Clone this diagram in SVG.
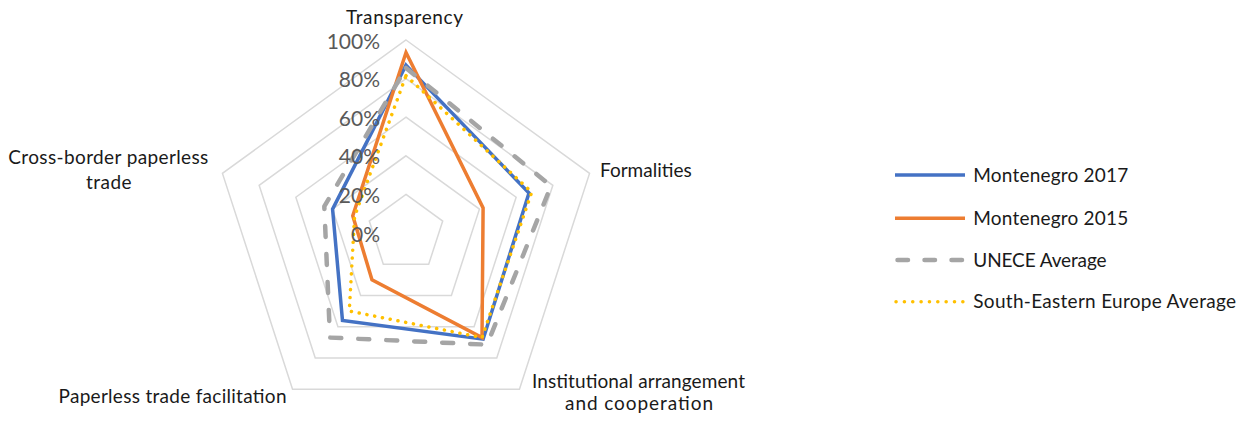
<svg xmlns="http://www.w3.org/2000/svg" width="1246" height="421" viewBox="0 0 1246 421">
<style>
.grid{fill:none;stroke:#d9d9d9;stroke-width:1.5}
.s{fill:none;stroke-linejoin:miter}
.blue{stroke:#4472c4;stroke-width:3.5}
.orange{stroke:#ed7d31;stroke-width:3.5}
.gray{stroke:#a5a5a5;stroke-width:4.5;stroke-dasharray:11 17;stroke-linecap:round;stroke-linejoin:round}
.yellow{stroke:#ffc000;stroke-width:3.5;stroke-dasharray:0.1 7.8;stroke-linecap:round;stroke-linejoin:round}
.pct{font-family:Lato,"Liberation Sans",sans-serif;font-size:21px;fill:#595959;text-anchor:end;dominant-baseline:central}
.lbl{font-family:Lato,"Liberation Sans",sans-serif;font-size:19px;fill:#1a1a1a}
.mid{text-anchor:middle}
</style>
<rect width="1246" height="421" fill="#ffffff"/>
<g id="grid">
<polygon class="grid" points="406,40 589.56,173.36 519.45,389.14 292.55,389.14 222.44,173.36"/>
<polygon class="grid" points="406,78.6 552.85,185.29 496.76,357.91 315.24,357.91 259.15,185.29"/>
<polygon class="grid" points="406,117.2 516.14,197.22 474.07,326.68 337.93,326.68 295.86,197.22"/>
<polygon class="grid" points="406,155.8 479.43,209.15 451.38,295.45 360.62,295.45 332.57,209.15"/>
<polygon class="grid" points="406,194.4 442.71,221.07 428.69,264.23 383.31,264.23 369.29,221.07"/>
</g>
<g id="series">
<polygon id="montenegro-2017" class="s blue" points="406,65.09 528.99,193.04 483.14,339.17 342.47,320.44 332.57,209.15"/>
<polygon id="montenegro-2015" class="s orange" points="406,52.54 483.10,207.95 482.01,337.61 371.97,279.84 352.77,215.71"/>
<polygon id="unece-average" class="s gray" points="406,67.98 551.01,185.89 487.11,344.64 329.99,337.61 324.31,206.46"/>
<polygon id="see-average" class="s yellow" points="406,75.7 531.74,192.15 482.01,337.61 349.28,311.07 354.60,216.30"/>
</g>
<g id="axis-labels">
<text class="pct" x="380" y="40">100%</text>
<text class="pct" x="380" y="78.6">80%</text>
<text class="pct" x="380" y="117.2">60%</text>
<text class="pct" x="380" y="155.8">40%</text>
<text class="pct" x="380" y="194.4">20%</text>
<text class="pct" x="380" y="233">0%</text>
</g>
<g id="category-labels">
<text id="lbl-transparency" class="lbl mid" x="404.5" y="24" textLength="117">Transparency</text>
<text id="lbl-formalities" class="lbl" x="600" y="177" textLength="91.7">Formalities</text>
<text id="lbl-institutional" class="lbl mid" x="638.5" y="388.3"><tspan x="638.5" y="388.3" textLength="213">Institutional arrangement</tspan><tspan x="639" y="409.5" textLength="148">and cooperation</tspan></text>
<text id="lbl-paperless" class="lbl mid" x="172.5" y="403.3" textLength="228">Paperless trade facilitation</text>
<text id="lbl-crossborder" class="lbl mid" x="108.3" y="164.3"><tspan x="108.3" y="164.3" textLength="200">Cross-border paperless</tspan><tspan x="108.8" y="189" textLength="45.7">trade</tspan></text>
</g>
<g id="legend">
<g id="legend-2017"><line class="blue" x1="895" y1="175" x2="965" y2="175"/><text class="lbl" x="973.3" y="182.3" textLength="155">Montenegro 2017</text></g>
<g id="legend-2015"><line class="orange" x1="895" y1="218.3" x2="965" y2="218.3"/><text class="lbl" x="973.3" y="225.3" textLength="155">Montenegro 2015</text></g>
<g id="legend-unece"><line class="gray" x1="897.5" y1="260" x2="965" y2="260" style="stroke-dasharray:10.5 16.5"/><text class="lbl" x="973.3" y="266.7" textLength="133.3">UNECE Average</text></g>
<g id="legend-see"><line class="yellow" x1="896" y1="301.7" x2="965" y2="301.7" style="stroke-dasharray:0.1 8.25"/><text class="lbl" x="973.3" y="308.3" textLength="262.7">South-Eastern Europe Average</text></g>
</g>
</svg>
